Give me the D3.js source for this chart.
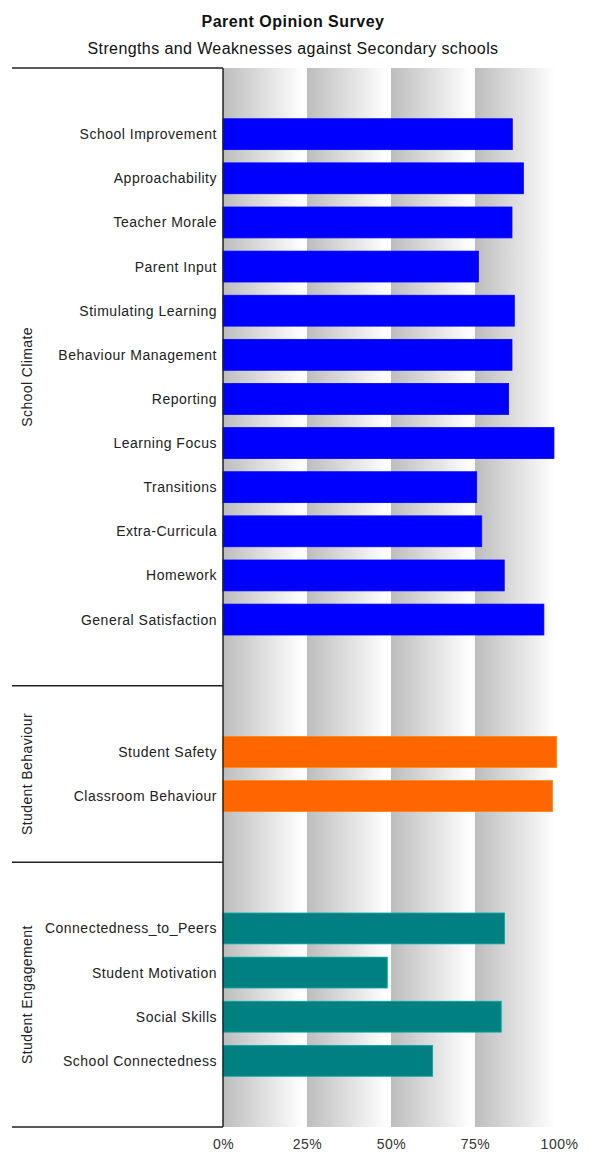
<!DOCTYPE html>
<html><head><meta charset="utf-8">
<script src="https://cdn.jsdelivr.net/npm/d3@7"></script>
<style>body{margin:0;background:#fff}svg{display:block;font-family:"Liberation Sans",Arial,sans-serif}</style>
</head><body><svg id="c" width="589" height="1154"></svg>
<script>
const groups = ["School Climate","Student Behaviour","Student Engagement"];
const climateCats = ["School Improvement","Approachability","Teacher Morale","Parent Input","Stimulating Learning","Behaviour Management","Reporting","Learning Focus","Transitions","Extra-Curricula","Homework","General Satisfaction"];
const climateVals = [86.1,89.4,86.0,76.0,86.7,86.0,85.0,98.5,75.5,77.0,83.7,95.5];
const behaviourCats = ["Student Safety","Classroom Behaviour"];
const behaviourVals = [99.3,98.1];
const engagementCats = ["Connectedness_to_Peers","Student Motivation","Social Skills","School Connectedness"];
const engagementVals = [83.8,48.9,82.8,62.4];
const groupColors = ["#0000ff","#ff6600","#008080"];
const tickValues = [0,25,50,75,100];
const tickLabels = ["0%","25%","50%","75%","100%"];

(function(){
const groupCats = [climateCats, behaviourCats, engagementCats];
const groupVals = [climateVals, behaviourVals, engagementVals];

const rows = [];
const data = [];
const groupSpans = [];
groupCats.forEach((cats, gi) => {
  const start = rows.length;
  rows.push("_pad_top_" + gi);
  cats.forEach((c, i) => { rows.push(c); data.push({cat: c, v: groupVals[gi][i], g: gi}); });
  rows.push("_pad_bot_" + gi);
  groupSpans.push({g: gi, first: rows[start], last: rows[rows.length - 1]});
});

const svg = d3.select("#c");
const pl = 223, pr = 559, pt = 68, pb = 1127;
const x = d3.scaleLinear().domain([0, 100]).range([pl, pr]);
const y = d3.scaleBand().domain(rows).range([pt, pb]).paddingInner(0.3).paddingOuter(0.15);
const yFull = d3.scaleBand().domain(rows).range([pt, pb]).padding(0);

const defs = svg.append("defs");
const grad = defs.append("linearGradient").attr("id", "bandGrad").attr("x1", 0).attr("x2", 1).attr("y1", 0).attr("y2", 0);
grad.append("stop").attr("offset", "0%").attr("stop-color", "#bdbdbd");
grad.append("stop").attr("offset", "45%").attr("stop-color", "#dcdcdc");
grad.append("stop").attr("offset", "95%").attr("stop-color", "#ffffff");

svg.append("g").selectAll("rect").data(tickValues.slice(0, -1)).join("rect")
  .attr("x", d => x(d)).attr("y", pt)
  .attr("width", d => x(d + 25) - x(d)).attr("height", pb - pt)
  .attr("fill", "url(#bandGrad)");

svg.append("g").selectAll("rect").data(data).join("rect")
  .attr("x", x(0)).attr("y", d => y(d.cat))
  .attr("width", d => x(d.v) - x(0)).attr("height", y.bandwidth())
  .attr("fill", d => groupColors[d.g])
  .attr("stroke", d => d3.color(groupColors[d.g]).brighter(0.8)).attr("stroke-width", 0.8);

svg.append("g").selectAll("text").data(data).join("text")
  .attr("x", pl - 6).attr("y", d => y(d.cat) + y.bandwidth() / 2)
  .attr("dy", "0.36em").attr("text-anchor", "end")
  .attr("font-size", 14).attr("letter-spacing", 0.5).attr("fill", "#222").text(d => d.cat);

const sepYs = [pt].concat(groupSpans.map(s => yFull(s.last) + yFull.bandwidth()));
svg.append("g").selectAll("line").data(sepYs).join("line")
  .attr("x1", 12).attr("x2", pl).attr("y1", d => d).attr("y2", d => d)
  .attr("stroke", "#222").attr("stroke-width", 1.5);
svg.append("line").attr("x1", pl).attr("x2", pl).attr("y1", pt).attr("y2", pb)
  .attr("stroke", "#222").attr("stroke-width", 1.5);

svg.append("g").selectAll("text").data(groupSpans).join("text")
  .attr("transform", s => {
    const cy = (yFull(s.first) + yFull(s.last) + yFull.bandwidth()) / 2;
    return `translate(32,${cy}) rotate(-90)`;
  })
  .attr("text-anchor", "middle").attr("font-size", 14).attr("letter-spacing", 0.4).attr("fill", "#222")
  .text(s => groups[s.g]);

const axis = d3.axisBottom(x).tickValues(tickValues).tickFormat((d, i) => tickLabels[i]).tickSize(0).tickPadding(0);
const ax = svg.append("g").attr("transform", `translate(0,${pb + 12})`).call(axis);
ax.select(".domain").remove();
ax.selectAll("text").attr("font-size", 14).attr("letter-spacing", 0.5).attr("fill", "#333")
  .attr("font-family", '"Liberation Sans",Arial,sans-serif');

svg.append("text").attr("x", 293).attr("y", 27).attr("text-anchor", "middle")
  .attr("font-size", 16).attr("letter-spacing", 0.5).attr("font-weight", "bold").attr("fill", "#111").text("Parent Opinion Survey");
svg.append("text").attr("x", 293).attr("y", 54).attr("text-anchor", "middle")
  .attr("font-size", 16).attr("letter-spacing", 0.4).attr("fill", "#111").text("Strengths and Weaknesses against Secondary schools");
})();
</script></body></html>
